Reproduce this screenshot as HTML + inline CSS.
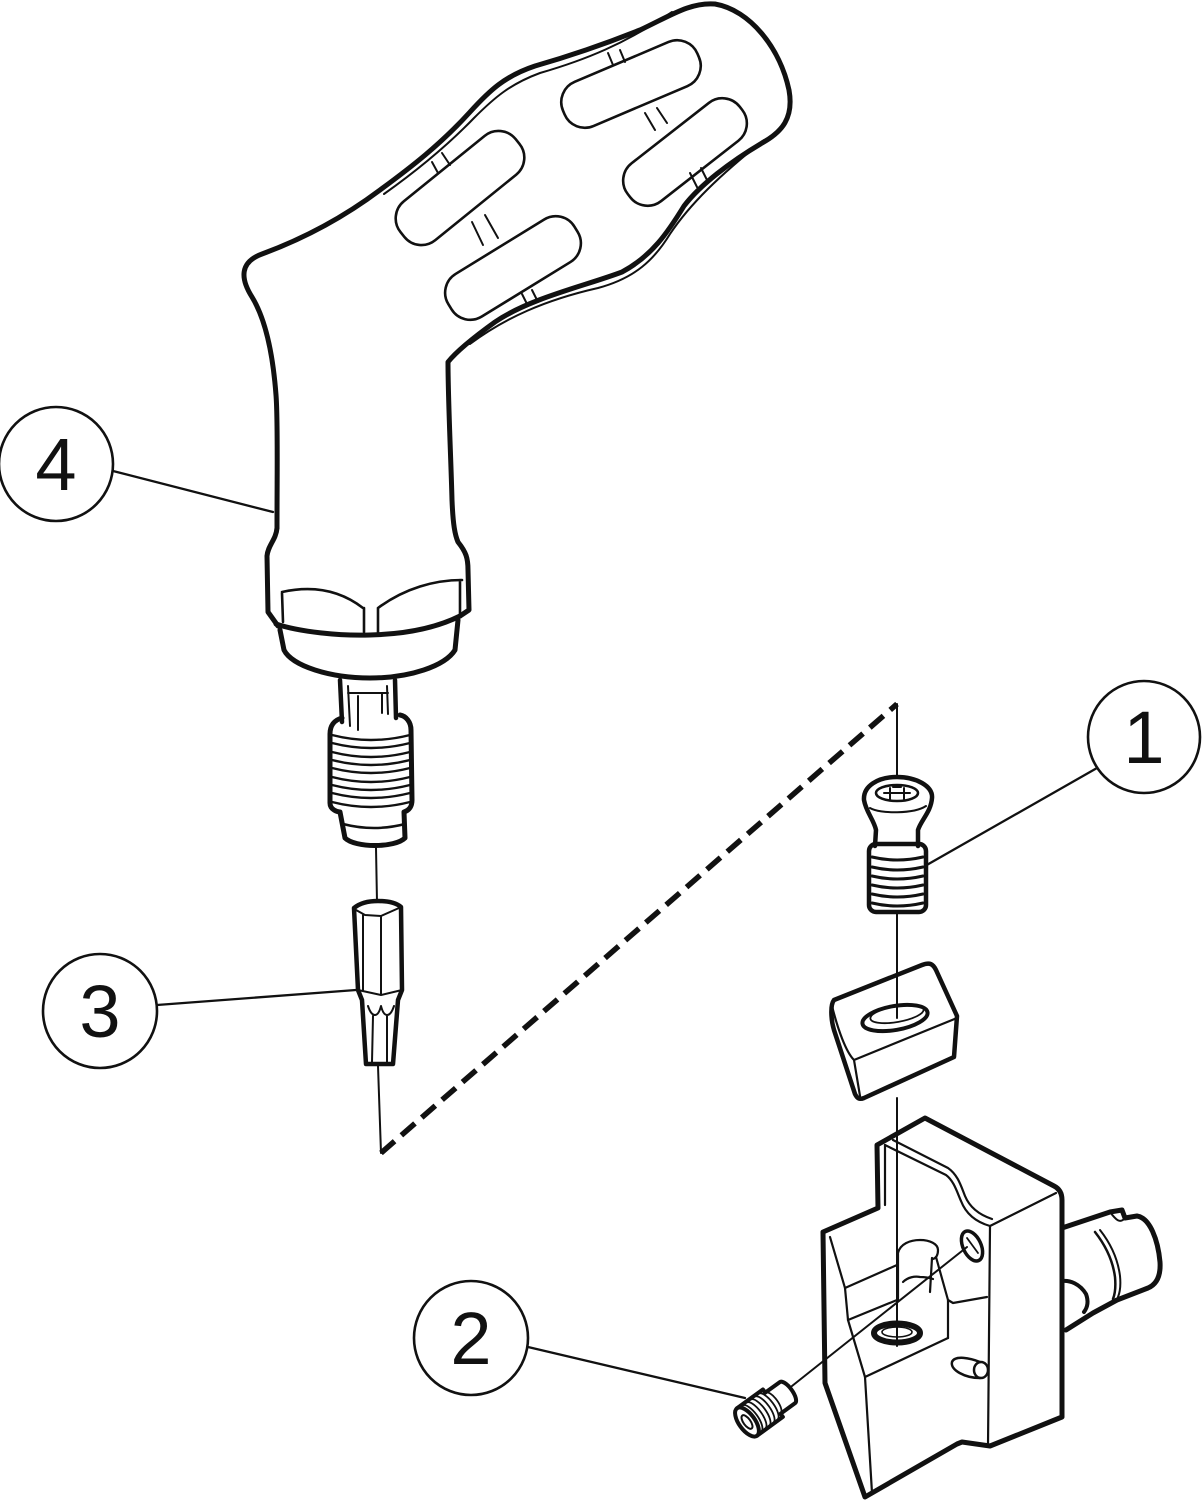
<!DOCTYPE html>
<html>
<head>
<meta charset="utf-8">
<style>
html,body{margin:0;padding:0;background:#fff;}
svg{display:block;}
text{font-family:"Liberation Sans",Arial,sans-serif;font-size:74px;fill:#111;}
</style>
</head>
<body>
<svg width="1204" height="1500" viewBox="0 0 1204 1500" xmlns="http://www.w3.org/2000/svg">
<g fill="none" stroke="#111" stroke-linecap="round" stroke-linejoin="round">

<!-- ===== HANDLE (4) ===== -->
<path stroke-width="5" d="M 277,528 C 277,470 278,420 276,395 C 273,355 266,320 252,297 C 240,278 240,262 262,254 C 300,240 340,220 380,190 C 410,168 440,145 470,112 C 490,90 505,76 535,66 C 570,56 610,42 640,30 C 670,16 690,2 715,4 C 750,10 780,48 789,90 C 794,118 782,132 762,143 C 730,162 700,185 684,206 C 668,232 652,256 622,272 C 585,286 530,298 495,322 C 470,340 456,352 448,362 C 448,400 451,460 452,500 C 453,525 455,535 458,542 C 466,552 468,558 468,570 L 469,610 L 460,616"/>
<path stroke-width="5" d="M 277,528 C 276,540 268,545 267,556 L 268,612 L 278,626"/>
<!-- double edge thin lines -->
<path stroke-width="2" d="M 384,194 C 415,172 445,148 474,118 C 494,98 510,84 540,73 C 585,60 625,44 672,12"/>
<path stroke-width="2" d="M 470,344 C 505,318 545,300 598,288 C 635,278 654,260 670,234 C 690,204 720,175 764,140"/>
<!-- grip slots -->
<g stroke-width="2.6">
<rect x="558" y="60" width="146" height="48" rx="22" transform="rotate(-23 631 84)"/>
<rect x="614" y="128" width="142" height="48" rx="22" transform="rotate(-38 685 152)"/>
<rect x="386" y="163" width="148" height="50" rx="22" transform="rotate(-39 460 188)"/>
<rect x="439" y="243" width="148" height="50" rx="22" transform="rotate(-31.6 513 268)"/>
</g>
<!-- tick bars -->
<g stroke-width="2">
<path d="M 608,53 L 613,65 M 620,50 L 625,62"/>
<path d="M 432,162 L 438,173 M 442,153 L 450,165"/>
<path d="M 472,222 L 483,245 M 485,215 L 498,238"/>
<path d="M 645,113 L 655,130 M 657,108 L 667,123"/>
<path d="M 690,173 L 697,187 M 701,168 L 708,182"/>
<path d="M 522,294 L 528,306 M 532,290 L 538,302"/>
</g>
<!-- hex nut facets -->
<path stroke-width="2.6" d="M 282,592 C 300,588 332,584 363,608 M 378,608 C 405,588 435,580 462,580 M 364,608 L 364,632 M 378,608 L 378,632 M 282,593 L 283,622 M 460,580 L 460,614"/>
<!-- collar -->
<path stroke-width="5" d="M 276,624 C 300,632 340,636 370,635 C 410,634 440,626 460,616"/>
<path stroke-width="5" d="M 280,630 L 284,650 C 292,666 330,678 370,678 C 410,678 445,666 455,650 L 458,620"/>
<!-- neck -->
<path stroke-width="4.5" d="M 340,680 L 342,722 M 395,680 L 396,718"/>
<path stroke-width="2" d="M 348,686 L 350,726 M 387,686 L 388,714 M 358,696 L 358,730 M 382,694 L 382,713 M 348,693 L 388,693"/>
<!-- threaded sleeve -->
<path stroke-width="5" d="M 342,718 C 334,720 330,726 330,734 L 330,803 C 330,810 338,812 340,812 L 345,838 C 355,848 395,848 405,838 L 404,812 C 410,810 412,806 412,800 L 411,730 C 411,722 406,716 400,715"/>
<path stroke-width="2.4" d="M 332,735 Q 371,745 410,735 M 332,743 Q 371,753 410,743 M 332,752 Q 371,762 410,752 M 332,760 Q 371,770 410,760 M 332,768 Q 371,778 410,768 M 332,777 Q 371,787 410,777 M 332,785 Q 371,795 410,785 M 332,793 Q 371,803 410,793 M 332,802 Q 371,812 410,802"/>
<path stroke-width="2.5" d="M 343,824 Q 374,832 405,824"/>
<path stroke-width="2" d="M 376,848 L 377,902"/>

<!-- ===== BIT (3) ===== -->
<path stroke-width="4.5" d="M 354,908 L 358,990 L 362,1000 L 366,1064 L 393,1064 L 398,1000 L 402,990 L 401,907 C 395,902 385,901 378,901 C 368,901 360,903 354,908 Z"/>
<path stroke-width="2" d="M 356,910 L 365,915 L 381,916 L 399,908 M 363,915 L 363,990 M 381,916 L 381,994 M 358,990 L 381,995 L 402,990 M 368,1006 C 372,1018 378,1018 381,1006 C 384,1018 390,1018 394,1006 M 373,1016 L 372,1062 M 387,1016 L 387,1062"/>
<path stroke-width="2" d="M 378,1066 L 381,1153"/>

<!-- ===== DASHED LINE ===== -->
<path stroke-width="5.5" stroke-linecap="butt" stroke-dasharray="18 9" d="M 381,1153 L 897,704"/>
<path stroke-width="2" d="M 897,704 L 897,777"/>

<!-- ===== SCREW (1) ===== -->
<path stroke-width="4.5" d="M 875,846 L 876,830 C 874,820 866,812 864,800 C 863,786 878,777 897,777 C 916,777 933,786 932,798 C 931,812 921,820 918,830 L 918,846"/>
<path stroke-width="2" d="M 870,808 C 880,814 914,814 926,806"/>
<ellipse stroke-width="2.6" cx="897" cy="793" rx="21" ry="8"/>
<path stroke-width="2" d="M 890,788 L 890,799 M 904,788 L 904,799 M 884,793 L 910,793 M 893,787 L 901,787"/>
<rect stroke-width="4.5" x="869" y="844" width="57" height="68" rx="7"/>
<path stroke-width="3" d="M 872,857 Q 897,863 923,857 M 872,867 Q 897,873 923,867 M 872,876 Q 897,882 923,876 M 872,885 Q 897,891 923,885 M 872,894 Q 897,900 923,894 M 872,903 Q 897,909 923,903"/>
<path stroke-width="2" d="M 897,914 L 897,1018"/>

<!-- ===== INSERT ===== -->
<path stroke-width="4.5" d="M 834,1000 L 922,965 C 930,962 933,964 936,970 L 957,1016 L 954,1057 L 864,1098 C 859,1100 857,1098 855,1094 L 834,1030 C 831,1020 830,1005 834,1000 Z"/>
<path stroke-width="2.2" d="M 832,1006 C 838,1030 846,1052 854,1060 L 957,1018 M 854,1060 L 860,1096"/>
<ellipse stroke-width="4" cx="895" cy="1018" rx="33" ry="12" transform="rotate(-10 895 1018)"/>
<ellipse stroke-width="1.8" cx="897" cy="1014" rx="27" ry="8" transform="rotate(-10 897 1014)"/>
<path stroke-width="2" d="M 897,1098 L 897,1346"/>

<!-- ===== BLOCK ===== -->
<path stroke-width="5" d="M 878,1208 L 877,1145 L 925,1118 L 1054,1186 Q 1062,1190 1062,1200 L 1062,1417 L 990,1446 L 962,1442 L 957,1444 L 865,1497 L 825,1383 L 823,1232 Z"/>
<g stroke-width="2.2">
<path d="M 885,1145 L 946,1175 C 954,1181 957,1192 961,1201 C 966,1214 976,1222 990,1226 L 1056,1193"/>
<path d="M 893,1140 L 948,1168 C 958,1175 961,1186 965,1196 C 970,1208 980,1215 992,1219"/>
<path d="M 990,1226 L 988,1446"/>
<path d="M 885,1145 L 885,1205"/>
<path d="M 830,1237 L 845,1288 L 897,1265"/>
<path d="M 845,1288 L 848,1320 L 865,1377 L 872,1493"/>
<path d="M 848,1320 L 897,1300"/>
<path d="M 865,1377 L 948,1338"/>
<path d="M 936,1257 L 948,1300 L 948,1338"/>
<path d="M 932,1258 L 930,1292"/>
<path d="M 948,1300 L 953,1303 L 987,1297"/>
<path d="M 898,1300 L 898,1253 C 900,1244 910,1240 920,1240 C 930,1240 938,1244 938,1250 C 938,1255 936,1258 933,1259"/>
<path d="M 903,1282 C 908,1277 915,1276 920,1277 C 926,1277 930,1278 933,1279"/>
</g>
<ellipse stroke-width="6" cx="897" cy="1333" rx="23" ry="9.5"/>
<ellipse stroke-width="1.6" cx="897" cy="1332" rx="15" ry="5"/>
<ellipse stroke-width="3.5" cx="972" cy="1246" rx="9" ry="16" transform="rotate(-25 972 1246)"/>
<path stroke-width="1.8" d="M 967,1238 L 978,1253"/>
<path stroke-width="2.5" d="M 980,1362 C 970,1358 955,1355 952,1362 C 950,1370 965,1378 980,1378"/>
<ellipse stroke-width="2.5" cx="981" cy="1370" rx="7" ry="8"/>
<path stroke-width="5" d="M 1062,1228 L 1110,1212 L 1122,1210 L 1125,1218 L 1137,1216 C 1150,1218 1158,1240 1160,1262 C 1161,1278 1155,1285 1148,1288 L 1117,1300 L 1093,1313 L 1066,1330"/>
<path stroke-width="2.5" d="M 1095,1232 C 1106,1246 1113,1262 1115,1277 C 1116,1288 1115,1294 1113,1299"/>
<path stroke-width="2" d="M 1100,1230 C 1111,1244 1118,1260 1120,1276 C 1121,1286 1120,1292 1118,1297"/>
<path stroke-width="2" d="M 1110,1212 C 1116,1220 1120,1224 1125,1218"/>
<path stroke-width="4" d="M 1062,1281 C 1070,1280 1080,1284 1086,1294 C 1089,1302 1087,1308 1084,1312"/>

<!-- ===== SET SCREW (2) ===== -->
<g transform="translate(747,1422) rotate(-36)">
<path stroke-width="4" d="M 0,-17 L 32,-17 L 32,-13 L 50,-13 A 5 13 0 0 1 50,13 L 32,13 L 32,17 L 0,17"/>
<ellipse stroke-width="4" cx="0" cy="0" rx="8" ry="17"/>
<ellipse stroke-width="2" cx="0" cy="0" rx="3.5" ry="8"/>
<path stroke-width="1.8" d="M 6,-16 A 6 16 0 0 1 6,16 M 11,-16 A 6 16 0 0 1 11,16 M 16,-16 A 6 16 0 0 1 16,16 M 21,-16 A 6 16 0 0 1 21,16 M 26,-16 A 6 16 0 0 1 26,16 M 32,-13 A 5 13 0 0 1 32,13"/>
</g>
<path stroke-width="2" d="M 792,1386 L 967,1247"/>

<!-- ===== LEADERS ===== -->
<g stroke-width="2.3">
<path d="M 113,471 L 273,512"/>
<path d="M 157,1005 L 356,990"/>
<path d="M 1097,768 L 925,866"/>
<path d="M 528,1347 L 745,1398"/>
</g>
<g stroke-width="2.6">
<circle cx="56" cy="464" r="57"/>
<circle cx="100" cy="1011" r="57"/>
<circle cx="1144" cy="737" r="56"/>
<circle cx="471" cy="1338" r="57"/>
</g>
</g>
<text x="56" y="490" text-anchor="middle">4</text>
<text x="100" y="1037" text-anchor="middle">3</text>
<text x="1144" y="763" text-anchor="middle">1</text>
<text x="471" y="1364" text-anchor="middle">2</text>
</svg>
</body>
</html>
